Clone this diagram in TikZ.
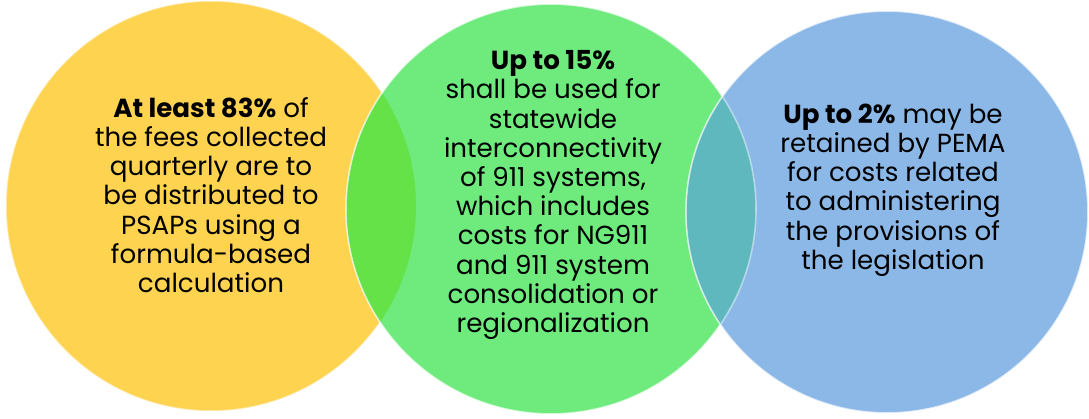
\documentclass[tikz,border=0pt]{standalone}
\usepackage{fontspec}
\setmainfont{Poppins}
\definecolor{feeyellow}{HTML}{FDD34F}
\definecolor{feegreen}{HTML}{6FEB7E}
\definecolor{feeblue}{HTML}{8CB8E8}
\definecolor{lensyg}{HTML}{64E248}
\definecolor{lensgb}{HTML}{5FB8BE}
\tikzset{
  share/.style={circle, minimum size=410*0.75pt, inner sep=0pt, draw=white, draw opacity=0.45, line width=1.2pt},
  sharetext/.style={align=center, font=\fontsize{19.6}{21.9}\selectfont, text=black}
}
\begin{document}
\begin{tikzpicture}[x=0.75pt, y=-0.75pt]
  \useasboundingbox (0,0) rectangle (1089,418);
  % the three shares
  \node[share, fill=feeyellow] (psap) at (211,206) {};
  \node[share, fill=feegreen] (state) at (551,209) {};
  \node[share, fill=feeblue, minimum size=402*0.75pt] (pema) at (887,212) {};
  % overlaps
  \begin{scope}
    \clip (211,206) circle (205);
    \fill[lensyg] (551,209) circle (204.4);
  \end{scope}
  \begin{scope}
    \clip (551,209) circle (205);
    \fill[lensgb] (887,212) circle (200.4);
  \end{scope}
  \draw[white, opacity=0.45, line width=1.2pt] (551,209) circle (205) (887,212) circle (201);
  % texts
  \node[sharetext] (psaptext) at (211,195) {\textbf{At least 83\%} of\\the fees collected\\quarterly are to\\be distributed to\\PSAPs using a\\formula-based\\calculation};
  \node[sharetext] (statetext) at (553,195) {\textbf{Up to 15\%}\\shall be used for\\statewide\\interconnectivity\\of 911 systems,\\which includes\\costs for NG911\\and 911 system\\consolidation or\\regionalization};
  \node[sharetext] (pematext) at (893,190) {\textbf{Up to 2\%} may be\\retained by PEMA\\for costs related\\to administering\\the provisions of\\the legislation};
\end{tikzpicture}
\end{document}
